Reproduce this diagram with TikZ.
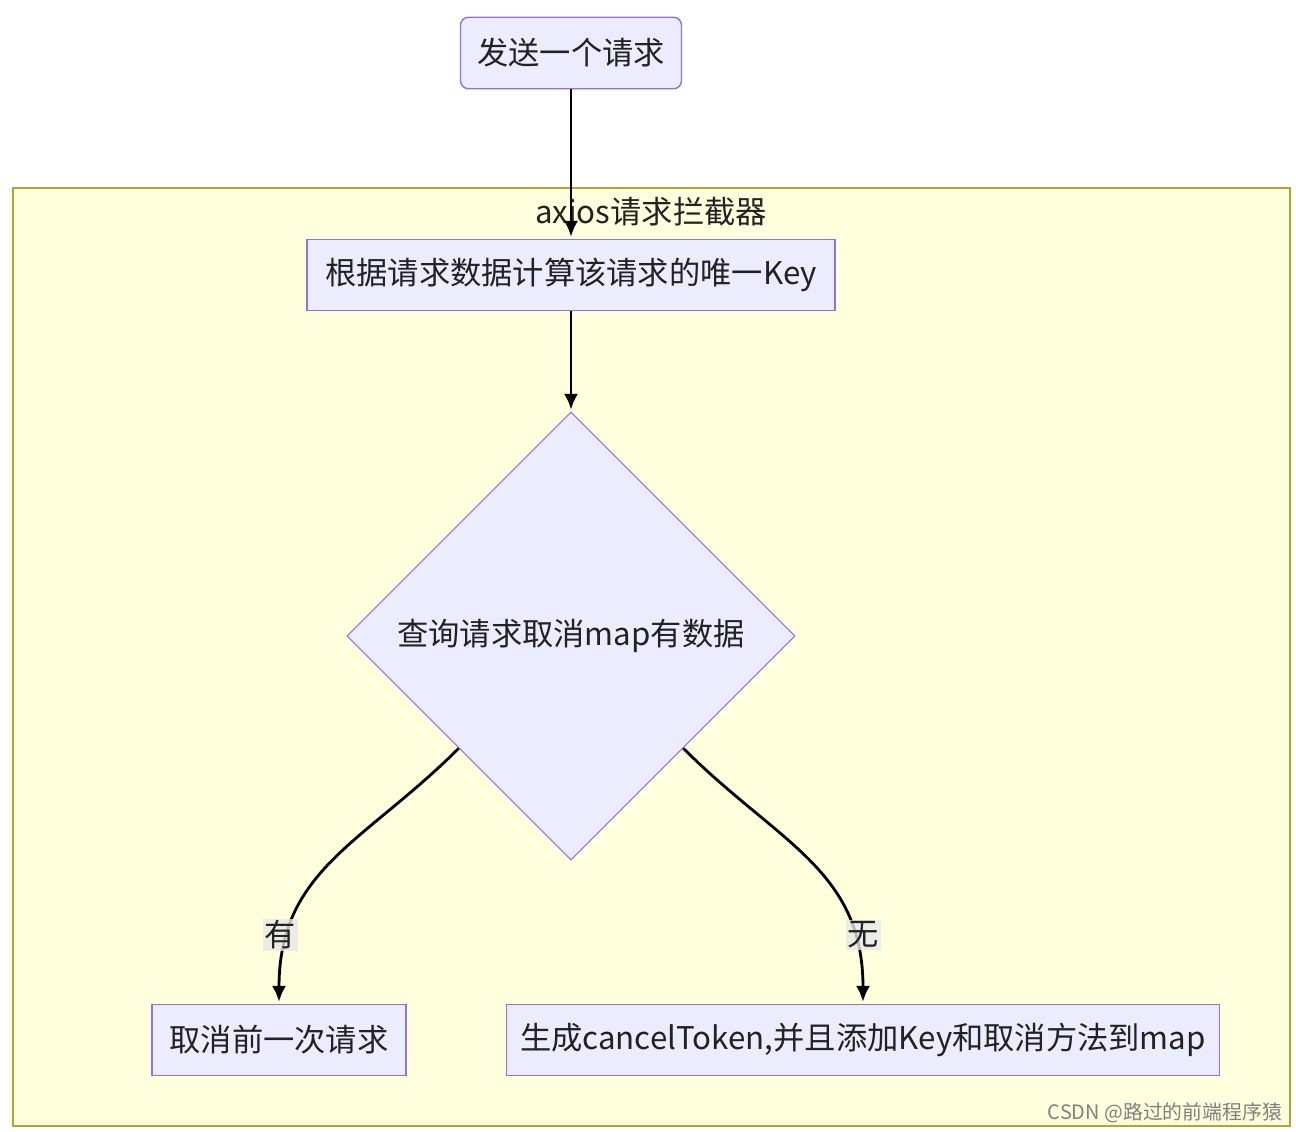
\documentclass[tikz,border=0pt]{standalone}
\usepackage{fontspec}
\setmainfont{Noto Sans CJK SC}
\usepackage{xcolor}
\usepackage{tikz}
\usetikzlibrary{positioning,shapes.geometric,arrows.meta}
\definecolor{nodefill}{HTML}{ECECFF}
\definecolor{nodeline}{HTML}{9370DB}
\definecolor{clusterfill}{HTML}{FFFFDE}
\definecolor{clusterline}{HTML}{AAAA33}
\definecolor{labelfill}{HTML}{E8E8E8}
\definecolor{ink}{HTML}{222222}

\begin{document}
\begin{tikzpicture}[shorten >=1pt,node distance=4.44cm,on grid,auto,
    font=\fontsize{17.8pt}{22pt}\selectfont,text=ink,
    box/.style={draw=nodeline,fill=nodefill,line width=0.8pt,minimum height=1.43cm,inner sep=0pt},
    choice/.style={diamond,aspect=1,draw=nodeline,fill=nodefill,line width=0.6pt,minimum width=8.96cm,minimum height=8.96cm,inner sep=0pt},
    lbl/.style={fill=labelfill,fill opacity=0.8,text opacity=1,inner sep=1pt,auto=false},
    >={Latex[length=9pt,width=8pt]}]
    	\useasboundingbox (0,0) rectangle (25.92,-22.64);
    	\fill[white] (0,0) rectangle (25.92,-22.64);
    	\draw[clusterline,fill=clusterfill,line width=0.8pt] (0.26,-3.76) rectangle (25.8,-22.52);
    	\node (t) at (13.02,-4.24) {axios请求拦截器};
    	\node (0) [box,rounded corners=0.16cm,minimum width=4.42cm] at (11.42,-1.06) {发送一个请求};
    	\node (1) [box,minimum width=10.56cm,below=of 0] {根据请求数据计算该请求的唯一Key};
    	\node (2) [choice,below=7.22cm of 1] {查询请求取消map有数据};
    	\node (3) [box,minimum width=5.08cm,below left=8.08cm and 5.84cm of 2] {取消前一次请求};
    	\node (4) [box,minimum width=14.26cm,below right=8.08cm and 5.84cm of 2] {生成cancelToken,并且添加Key和取消方法到map};
    	\node (w) [text=gray,font=\fontsize{11.3pt}{14pt}\selectfont] at (23.3,-22.26) {CSDN @路过的前端程序猿};
    	\path[->,line width=1.6pt]
    	(0) edge (1)
    	(1) edge (2)
    	(2.south west) edge [out=-135,in=90,looseness=1.1] node[lbl,pos=0.8,xshift=-0.16cm] {有} (3)
    	(2.south east) edge [out=-45,in=90,looseness=1.1] node[lbl,pos=0.8,xshift=0.2cm] {无} (4);
    \end{tikzpicture}
\end{document}
